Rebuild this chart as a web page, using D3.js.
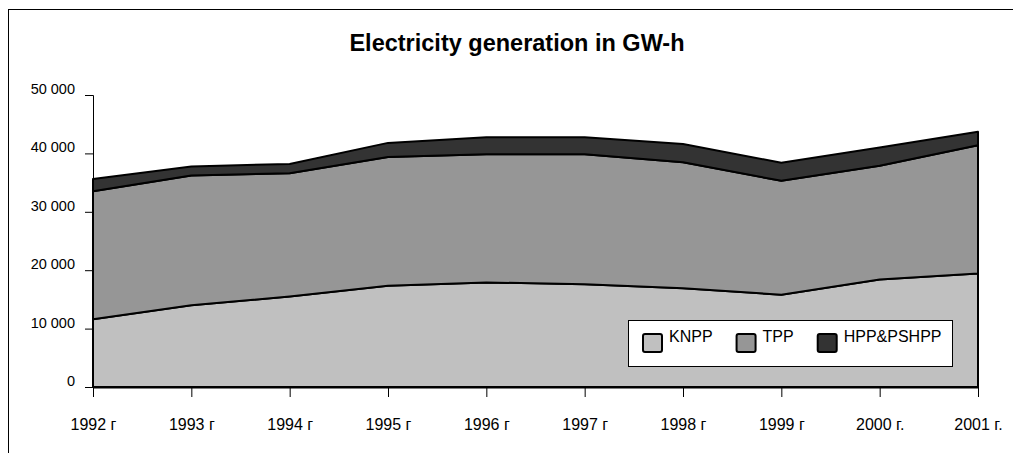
<!DOCTYPE html>
<html>
<head>
<meta charset="utf-8">
<script src="https://cdn.jsdelivr.net/npm/d3@7"></script>
<style>
  html, body { margin: 0; padding: 0; background: #fff; }
  svg { display: block; font-family: "Liberation Sans", Arial, sans-serif; }
</style>
</head>
<body>
<svg id="chart" width="1013" height="453"></svg>
<script>
// ---- data ----
const years = ["1992 г", "1993 г", "1994 г", "1995 г", "1996 г", "1997 г", "1998 г", "1999 г", "2000 г.", "2001 г."];
const seriesNames = ["KNPP", "TPP", "HPP&PSHPP"];
const knpp = [11600, 14000, 15500, 17350, 17900, 17600, 16900, 15800, 18400, 19450];
const tpp  = [21900, 22200, 21100, 22050, 21950, 22250, 21600, 19500, 19500, 21950];
const hpp  = [2100, 1550, 1600, 2400, 2900, 2900, 3100, 3100, 3100, 2300];
const yTicks = [0, 10000, 20000, 30000, 40000, 50000];
const title = "Electricity generation in GW-h";
const colors = ["#c0c0c0", "#969696", "#333333"];

// ---- build ----
const rows = years.map((y, i) => ({ year: y, KNPP: knpp[i], TPP: tpp[i], "HPP&PSHPP": hpp[i] }));
const svg = d3.select("#chart");

// outer chart border (extends beyond the view at right/bottom)
svg.append("rect").attr("x", 8.5).attr("y", 9.5).attr("width", 1100).attr("height", 500)
  .attr("fill", "#fff").attr("stroke", "#000").attr("stroke-width", 1);

const x = d3.scalePoint().domain(years).range([93, 978]);
const y = d3.scaleLinear().domain([0, 50000]).range([387, 95]);

const stack = d3.stack().keys(seriesNames);
const stacked = stack(rows);
const area = d3.area()
  .x(d => x(d.data.year))
  .y0(d => y(d[0]))
  .y1(d => y(d[1]));

svg.append("g").selectAll("path").data(stacked).join("path")
  .attr("d", area)
  .attr("fill", (d, i) => colors[i])
  .attr("stroke", "#000")
  .attr("stroke-width", 2)
  .attr("stroke-linejoin", "round");

// y axis
const yAxis = d3.axisLeft(y).tickValues(yTicks).tickSize(8).tickPadding(10)
  .tickFormat(d => d3.format(",")(d).replace(/,/g, " "));
const gy = svg.append("g").attr("transform", "translate(93,0)").call(yAxis);
gy.select(".domain").attr("stroke", "#000").attr("stroke-width", 1);
gy.selectAll(".tick line").attr("stroke", "#000");
gy.selectAll(".tick text").attr("font-size", 14.5).attr("fill", "#000")
  .attr("font-family", "Liberation Sans, Arial, sans-serif").attr("dy", "-0.1em");

// x axis
const xAxis = d3.axisBottom(x).tickSize(10).tickPadding(22).tickSizeOuter(0);
const gx = svg.append("g").attr("transform", "translate(0,387)").call(xAxis);
gx.select(".domain").attr("stroke", "#000").attr("stroke-width", 2);
gx.selectAll(".tick line").attr("stroke", "#000");
gx.selectAll(".tick text").attr("font-size", 16).attr("fill", "#000")
  .attr("font-family", "Liberation Sans, Arial, sans-serif");

// title
svg.append("text").attr("x", 517).attr("y", 51).attr("text-anchor", "middle")
  .attr("font-size", 23.5).attr("font-weight", "bold").attr("fill", "#000").text(title);

// legend
const lg = svg.append("g");
lg.append("rect").attr("x", 628.5).attr("y", 320.5).attr("width", 324).attr("height", 46)
  .attr("fill", "#fff").attr("stroke", "#000").attr("stroke-width", 1);
let lx = 643;
seriesNames.forEach((name, i) => {
  lg.append("rect").attr("x", lx).attr("y", 334).attr("width", 19).attr("height", 18)
    .attr("rx", 2).attr("fill", colors[i]).attr("stroke", "#000").attr("stroke-width", 2);
  const t = lg.append("text").attr("x", lx + 26).attr("y", 342).attr("font-size", 16)
    .attr("fill", "#000").text(name);
  const w = t.node().getComputedTextLength();
  lx = lx + 26 + w + 24;
});
</script>
</body>
</html>
